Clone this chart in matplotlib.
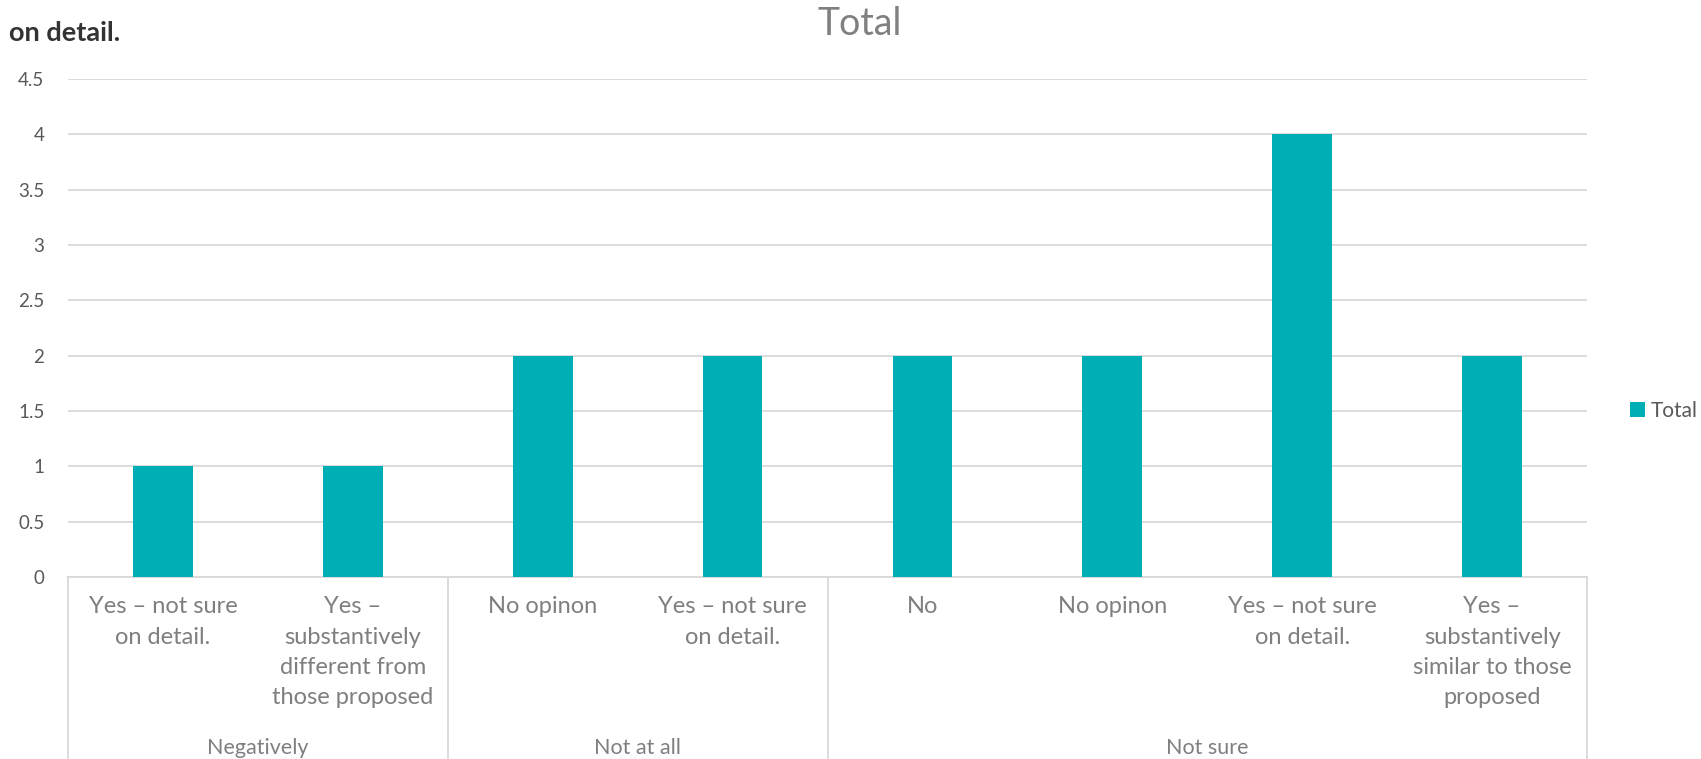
import matplotlib
matplotlib.use('Agg')
import matplotlib.pyplot as plt
import matplotlib.transforms as mtransforms

plt.rcParams['font.family'] = ['Lato', 'DejaVu Sans']

# data
groups = ['Negatively', 'Not at all', 'Not sure']
group_sizes = [2, 2, 4]
categories = [
    'Yes – not sure\non detail.',
    'Yes –\nsubstantively\ndifferent from\nthose proposed',
    'No opinon',
    'Yes – not sure\non detail.',
    'No',
    'No opinon',
    'Yes – not sure\non detail.',
    'Yes –\nsubstantively\nsimilar to those\nproposed',
]
totals = [1, 1, 2, 2, 2, 2, 4, 2]
yticks = [0, 0.5, 1, 1.5, 2, 2.5, 3, 3.5, 4, 4.5]
ytick_labels = ['0', '0.5', '1', '1.5', '2', '2.5', '3', '3.5', '4', '4.5']

bar_color = '#00aeb5'
grid_color = '#d9d9d9'
text_gray = '#7f7f7f'

fig = plt.figure(figsize=(17.01, 7.59), dpi=100)
ax = fig.add_axes([68 / 1701, 1 - 577 / 759, (1587 - 68) / 1701, (577 - 79) / 759])

x = list(range(len(categories)))
ax.bar(x, totals, width=0.315, color=bar_color, label='Total', zorder=3)

ax.set_xlim(-0.5, len(categories) - 0.5)
ax.set_ylim(0, 4.5)
ax.set_yticks(yticks)
ax.set_yticklabels(ytick_labels, fontsize=13.5, color='#595959')
ax.yaxis.grid(True, color=grid_color, lw=1.3, zorder=0)
ax.tick_params(axis='y', length=0, pad=17)

ax.set_xticks(x)
ax.set_xticklabels(categories, fontsize=17, color=text_gray, linespacing=1.55, va='top')
ax.tick_params(axis='x', length=0, pad=14)

for s in ['top', 'right', 'left']:
    ax.spines[s].set_visible(False)
ax.spines['bottom'].set_color(grid_color)
ax.spines['bottom'].set_linewidth(1.3)

# group separators and labels below the axis
trans = mtransforms.blended_transform_factory(ax.transData, ax.transAxes)
edges = [-0.5]
for n in group_sizes:
    edges.append(edges[-1] + n)
for e in edges:
    ax.plot([e, e], [0, -0.4], transform=trans, color=grid_color, lw=1.3, clip_on=False)
for g, a, b in zip(groups, edges[:-1], edges[1:]):
    ax.text((a + b) / 2, -0.343, g, transform=trans, ha='center', va='center',
            fontsize=15.5, color=text_gray)

fig.text(860 / 1701, 1 - 24 / 759, 'Total', ha='center', va='center',
         fontsize=27, color='#808080')
fig.text(9 / 1701, 1 - 33 / 759, 'on detail.', ha='left', va='center',
         fontsize=19.5, fontweight='bold', color='#333333')

fig.legend(loc='center left', bbox_to_anchor=(1622 / 1701, 1 - 411 / 759), frameon=False,
           fontsize=15, labelcolor='#595959', handlelength=0.7, handleheight=0.7,
           handletextpad=0.3, borderaxespad=0)

fig.savefig('out.png', dpi=100)
